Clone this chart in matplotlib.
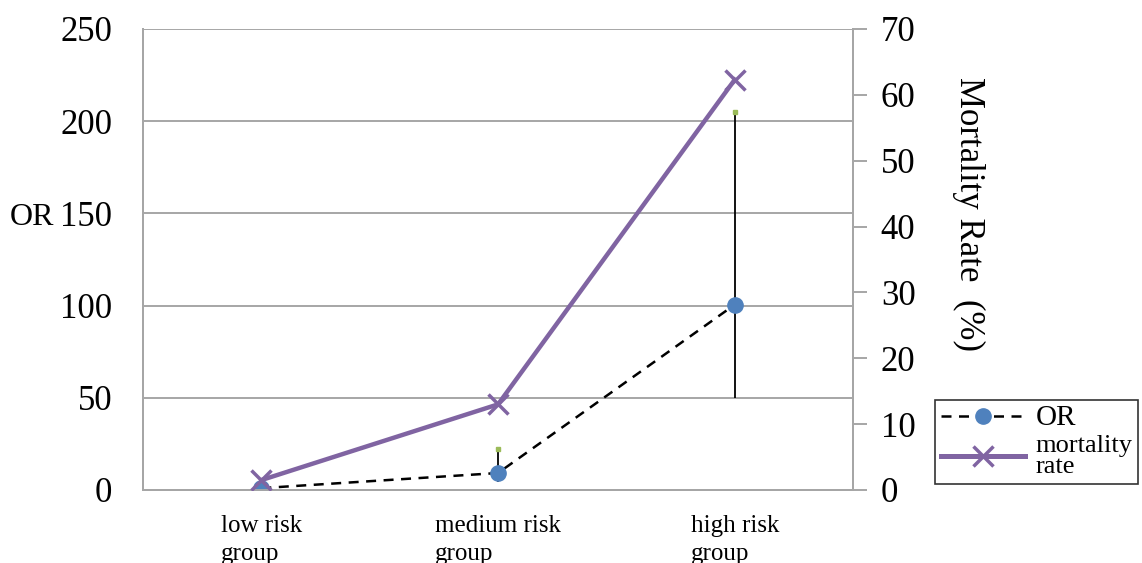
import matplotlib.pyplot as plt
import numpy as np

plt.rcParams['font.family'] = ['Liberation Serif', 'DejaVu Serif']

categories = ['low risk\ngroup', 'medium risk\ngroup', 'high risk\ngroup']
or_values = [1.0, 9.2, 100.5]
or_lower = [0.5, 4.3, 50.0]
or_upper = [1.2, 22.0, 205.0]
mortality = [1.5, 13.0, 62.3]

grid_grey = '#a6a6a6'
blue = '#4f81bd'
purple = '#8064a2'

fig = plt.figure(figsize=(11.42, 5.63), dpi=100)
ax = fig.add_axes([0.1252, 0.1297, 0.6218, 0.8188])
ax2 = ax.twinx()

x = np.arange(len(categories))

# OR with confidence intervals
or_arr = np.array(or_values)
yerr = [or_arr - np.array(or_lower), np.array(or_upper) - or_arr]
ax.errorbar(x, or_values, yerr=yerr, fmt='none', ecolor='black', elinewidth=1.3, capsize=0, zorder=3)
ax.plot(x, or_upper, 's', color='#9bbb59', markersize=3, zorder=4)
ax.plot(x, or_values, '--', color='black', linewidth=1.8, dashes=(4, 3), zorder=3)
ax.plot(x, or_values, 'o', color=blue, markersize=11, zorder=5)

# mortality rate on right axis
ax2.plot(x, mortality, '-', color=purple, linewidth=3.2, marker='x', markersize=15, mew=2.5, zorder=6)

ax.set_xlim(-0.5, 2.5)
ax.set_ylim(0, 250)
ax.set_yticks([0, 50, 100, 150, 200, 250])
ax2.set_ylim(0, 70)
ax2.set_yticks(range(0, 71, 10))

ax.yaxis.grid(True, color=grid_grey, linewidth=1.4)
ax.set_axisbelow(True)
ax.tick_params(axis='y', length=0, labelsize=25, pad=22)
ax.tick_params(axis='x', length=0, labelsize=18, pad=18)
ax.set_xticks(x)
ax.set_xticklabels(categories, ma='left', linespacing=1.35)
ax2.tick_params(axis='y', length=10, width=1.4, color=grid_grey, labelsize=25, pad=10)

for a in (ax, ax2):
    a.spines['top'].set_visible(False)
    for side in ('left', 'right', 'bottom'):
        a.spines[side].set_color(grid_grey)
        a.spines[side].set_linewidth(1.4)

fig.text(0.028, 0.613, 'OR', fontsize=23, ha='center', va='center')
fig.text(0.848, 0.62, 'Mortality Rate  (%)', fontsize=25, rotation=-90, ha='center', va='center')

handles = [
    plt.Line2D([], [], color='black', linestyle='--', dashes=(4, 3), linewidth=1.8,
               marker='o', markerfacecolor=blue, markeredgecolor=blue, markersize=11),
    plt.Line2D([], [], color=purple, linewidth=3.6, marker='x', markersize=15, mew=2.5),
]
leg = fig.legend(handles, ['OR', 'mortality\nrate'], loc='upper left',
                 bbox_to_anchor=(0.819, 0.2895), fontsize=19, frameon=True,
                 fancybox=False, edgecolor='black', handlelength=3.2,
                 borderpad=0.2, labelspacing=0.15, handletextpad=0.4,
                 borderaxespad=0)
leg.get_frame().set_linewidth(1.2)
for t in leg.get_texts():
    t.set_linespacing(0.95)
leg.get_texts()[0].set_fontsize(21)

fig.savefig('out.png', dpi=100)
